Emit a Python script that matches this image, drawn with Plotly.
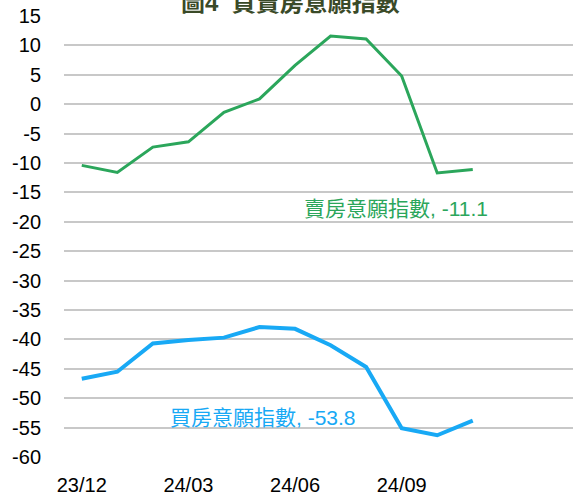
import plotly.graph_objects as go

months = ["23/12", "24/01", "24/02", "24/03", "24/04", "24/05",
          "24/06", "24/07", "24/08", "24/09", "24/10", "24/11"]
tick_labels = ["23/12", "", "", "24/03", "", "", "24/06", "", "", "24/09", "", ""]
sell_index = [-10.4, -11.6, -7.3, -6.4, -1.4, 0.9, 6.6, 11.6, 11.1, 4.8, -11.7, -11.1]
buy_index = [-46.7, -45.5, -40.7, -40.1, -39.7, -37.9, -38.2, -41.0, -44.7, -55.1, -56.3, -53.8]
y_ticks = list(range(-60, 20, 5))

GREEN = "#2BA65B"
BLUE = "#18A9F5"
LATIN = "Liberation Sans, Arial, Noto Sans CJK TC, sans-serif"

x_idx = list(range(len(months)))

fig = go.Figure()
fig.add_trace(go.Scatter(x=x_idx, y=sell_index, mode="lines",
                         line=dict(color=GREEN, width=3), name="賣房意願指數"))
fig.add_trace(go.Scatter(x=x_idx, y=buy_index, mode="lines",
                         line=dict(color=BLUE, width=4), name="買房意願指數"))

fig.add_annotation(x=8.84, y=-17.7, xref="x", yref="y",
                   text=f"賣房意願指數, {sell_index[-1]}", showarrow=False,
                   font=dict(family=LATIN, size=21, color=GREEN))
fig.add_annotation(x=5.11, y=-53.2, xref="x", yref="y",
                   text=f"買房意願指數, {buy_index[-1]}", showarrow=False,
                   font=dict(family=LATIN, size=21, color=BLUE))
fig.add_annotation(x=(290 - 64) / (573 - 64), y=1, xref="paper", yref="paper",
                   text="<b>圖4\u00a0\u00a0買賣房意願指數</b>", showarrow=False,
                   xanchor="center", yanchor="middle", yshift=14,
                   font=dict(family="Liberation Sans, Noto Sans CJK TC, sans-serif",
                             size=24, color="#3A4A28"))

fig.update_layout(
    width=573, height=499,
    margin=dict(l=64, r=0, t=16, b=42),
    paper_bgcolor="white", plot_bgcolor="white",
    showlegend=False,
    font=dict(family=LATIN, size=20, color="black"),
    xaxis=dict(range=[-0.5, 13.82], tickmode="array", tickvals=x_idx,
               ticktext=tick_labels, showgrid=False, zeroline=False,
               showline=False, ticks="", ticklabelstandoff=14,
               tickfont=dict(family=LATIN, size=20, color="black")),
    yaxis=dict(range=[-60, 15], tickmode="array", tickvals=y_ticks,
               ticktext=[str(v) for v in y_ticks],
               showgrid=True, gridcolor="#C8C8C8", gridwidth=1.5,
               zeroline=False, showline=False, ticks="", ticklabelstandoff=22,
               tickfont=dict(family=LATIN, size=20, color="black")),
)

fig.write_html("out.html", config={"displayModeBar": False},
               post_script="document.body.style.margin='0';document.body.style.overflow='hidden';")
